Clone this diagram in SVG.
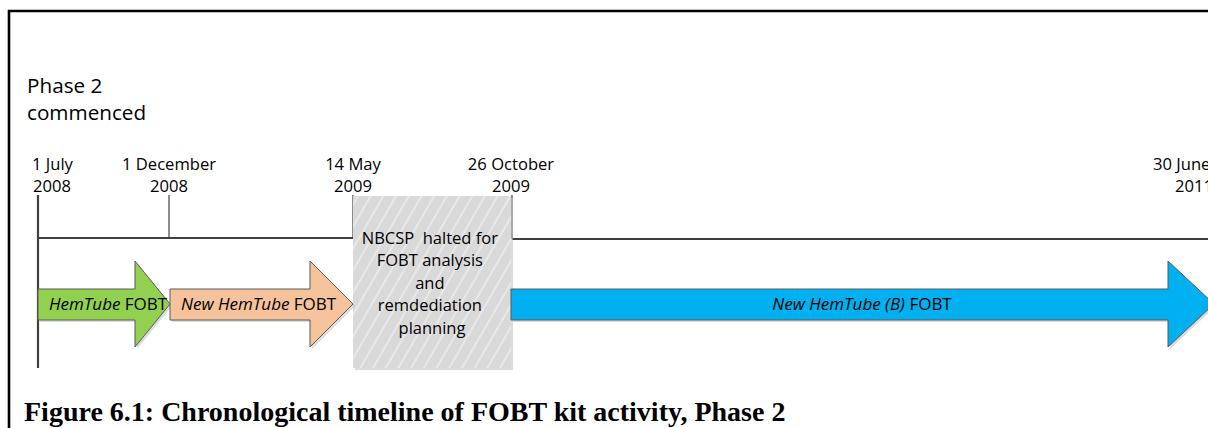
<svg xmlns="http://www.w3.org/2000/svg" width="1208" height="428" viewBox="0 0 1208 428">
<style>
.lbl{font-family:"Open Sans","Liberation Sans",sans-serif;fill:#000}
.date{font-size:16.6px}
.box{font-size:16.5px}
.arr{font-size:17px}
.it{font-style:italic}
.cap{font-family:"Liberation Serif","DejaVu Serif",serif;font-weight:bold;font-size:28px;fill:#000}
.tl{stroke:#404040;stroke-width:2.2;fill:none}
.tick{stroke:#404040;stroke-width:1.2;fill:none}
.ar{stroke:#5a5a5a;stroke-width:1}
.sh{fill:#bfbfbf;opacity:0.55}
</style>
<defs>
<pattern id="hatch" width="11" height="11" patternUnits="userSpaceOnUse" patternTransform="rotate(30)">
<rect width="11" height="11" fill="#d9d9d9"/>
<line x1="1" y1="0" x2="1" y2="11" stroke="#ffffff" stroke-width="1" opacity="0.8"/>
</pattern>
</defs>
<rect width="1208" height="428" fill="#ffffff"/>
<path d="M9,428 V11 H1208" fill="none" stroke="#000" stroke-width="2.6"/>
<g id="title">
<text class="lbl" x="27" y="93" font-size="20.7">Phase 2</text>
<text class="lbl" x="27" y="120" font-size="20.7">commenced</text>
</g>
<g id="connectors">
<line class="tl" x1="38" y1="195" x2="38" y2="368"/>
<line class="tl" x1="38" y1="238" x2="353" y2="238"/>
<line class="tl" x1="512" y1="239" x2="1208" y2="239"/>
<line class="tick" x1="169" y1="195" x2="169" y2="238"/>
<line class="tick" x1="353" y1="195" x2="353" y2="238"/>
<line class="tick" x1="512" y1="195" x2="512" y2="239"/>
</g>
<g id="d1">
<text class="lbl date" x="32" y="170">1 July</text>
<text class="lbl date" x="33" y="192">2008</text>
</g>
<g id="d2">
<text class="lbl date" x="169" y="170" text-anchor="middle">1 December</text>
<text class="lbl date" x="169" y="192" text-anchor="middle">2008</text>
</g>
<g id="d3">
<text class="lbl date" x="353" y="170" text-anchor="middle">14 May</text>
<text class="lbl date" x="353" y="192" text-anchor="middle">2009</text>
</g>
<g id="d4">
<text class="lbl date" x="511" y="170" text-anchor="middle">26 October</text>
<text class="lbl date" x="511" y="192" text-anchor="middle">2009</text>
</g>
<g id="d5">
<text class="lbl date" x="1153" y="170">30 June</text>
<text class="lbl date" x="1175" y="192">2011</text>
</g>
<g id="halt">
<rect x="355" y="198" width="158" height="172" class="sh"/>
<rect x="353" y="196" width="158" height="172" fill="url(#hatch)"/>
<text class="lbl box" text-anchor="middle">
<tspan x="432" y="244">NBCSP&#160; halted for</tspan>
<tspan x="432" y="266">FOBT analysis</tspan>
<tspan x="432" y="289">and</tspan>
<tspan x="432" y="311">remdediation</tspan>
<tspan x="432" y="334">planning</tspan>
</text>
</g>
<g id="a1">
<path class="sh" d="M40,291 H137 V263 L172,306 L137,349 V322 H40 Z"/>
<path class="ar" fill="#92d050" d="M38,289 H135 V261 L170,304 L135,347 V320 H38 Z"/>
<text class="lbl arr" x="49" y="310"><tspan class="it">HemTube</tspan> FOBT</text>
</g>
<g id="a2">
<path class="sh" d="M172,291 H312 V263 L355,306 L312,349 V322 H172 Z"/>
<path class="ar" fill="#f5c29c" d="M170,289 H310 V261 L353,304 L310,347 V320 H170 Z"/>
<text class="lbl arr" x="181" y="310"><tspan class="it">New HemTube</tspan> FOBT</text>
</g>
<g id="a3">
<path class="sh" d="M513,291 H1170 V263 L1216,306 L1170,349 V322 H513 Z"/>
<path class="ar" fill="#00b0f0" d="M511,289 H1168 V261 L1214,304 L1168,347 V320 H511 Z"/>
<text class="lbl arr" x="862" y="310" text-anchor="middle"><tspan class="it">New HemTube (B)</tspan> FOBT</text>
</g>
<text class="cap" x="24" y="421">Figure 6.1: Chronological timeline of FOBT kit activity, Phase 2</text>
</svg>
